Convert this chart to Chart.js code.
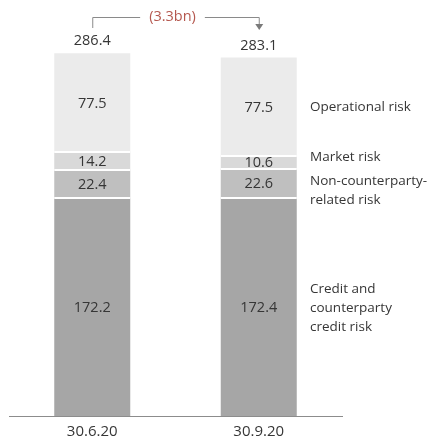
<!DOCTYPE html>
<html>
<head>
<meta charset="utf-8">
<script src="https://cdn.jsdelivr.net/npm/chart.js@4.4.1/dist/chart.umd.min.js"></script>
<style>
  html, body { margin: 0; padding: 0; background: #fff; }
  #wrap { width: 433px; height: 445px; }
</style>
</head>
<body>
<div id="wrap"><canvas id="rwa-chart"></canvas></div>
<script>
// RWA by risk type, two quarter ends (CHF bn)
const periods = ['30.6.20', '30.9.20'];
const creditRisk = [172.2, 172.4];
const nonCounterparty = [22.4, 22.6];
const marketRisk = [14.2, 10.6];
const operationalRisk = [77.5, 77.5];
const totals = [286.4, 283.1];

const segmentNames = [
    ['Credit and', 'counterparty', 'credit risk'],
    ['Non-counterparty-', 'related risk'],
    ['Market risk'],
    ['Operational risk']
];
const segmentColors = ['#a6a6a6', '#bfbfbf', '#d9d9d9', '#ebebeb'];

const FONT = '"Open Sans", "Noto Sans", sans-serif';
const TEXT = '#363636';

const labelPlugin = {
    id: 'segmentLabels',
    afterDatasetsDraw(chart) {
        const ctx = chart.ctx;
        ctx.save();

        // white gaps between stacked segments
        ctx.fillStyle = '#ffffff';
        chart.data.datasets.forEach((ds, di) => {
            if (di === chart.data.datasets.length - 1) return;
            chart.getDatasetMeta(di).data.forEach((bar) => {
                ctx.fillRect(bar.x - bar.width / 2, Math.round(bar.y) - 1, bar.width, 2);
            });
        });

        ctx.font = '14.5px ' + FONT;
        ctx.fillStyle = TEXT;
        ctx.textAlign = 'center';
        ctx.textBaseline = 'middle';

        // values inside each segment
        chart.data.datasets.forEach((ds, di) => {
            const meta = chart.getDatasetMeta(di);
            meta.data.forEach((bar, i) => {
                const mid = (bar.y + bar.base) / 2;
                ctx.fillText(ds.data[i].toFixed(1), bar.x, mid + 1);
            });
        });

        // totals above each bar
        const topMeta = chart.getDatasetMeta(chart.data.datasets.length - 1);
        topMeta.data.forEach((bar, i) => {
            ctx.fillText(totals[i].toFixed(1), bar.x, bar.y - 12);
        });

        // segment names next to the last bar
        ctx.font = '13.5px ' + FONT;
        ctx.textAlign = 'left';
        const lastIdx = periods.length - 1;
        const nameOffsets = [1, 7, -5, 1];
        chart.data.datasets.forEach((ds, di) => {
            const bar = chart.getDatasetMeta(di).data[lastIdx];
            const lines = segmentNames[di];
            const lh = 19;
            const mid = (bar.y + bar.base) / 2 + nameOffsets[di];
            lines.forEach((line, li) => {
                ctx.fillText(line, 310, mid + (li - (lines.length - 1) / 2) * lh);
            });
        });

        // change bracket between the two totals
        const b0 = topMeta.data[0];
        const b1 = topMeta.data[lastIdx];
        const lineY = 17;
        const change = '(' + (totals[0] - totals[lastIdx]).toFixed(1) + 'bn)';
        ctx.font = '14.5px ' + FONT;
        const tw = ctx.measureText(change).width;
        const cx = (b0.x + b1.x) / 2 - 3;
        ctx.strokeStyle = '#8a8a8a';
        ctx.lineWidth = 1;
        ctx.beginPath();
        ctx.moveTo(b0.x + 0.5, 28);
        ctx.lineTo(b0.x + 0.5, lineY + 0.5);
        ctx.lineTo(cx - tw / 2 - 9, lineY + 0.5);
        ctx.moveTo(cx + tw / 2 + 9, lineY + 0.5);
        ctx.lineTo(b1.x + 0.5, lineY + 0.5);
        ctx.lineTo(b1.x + 0.5, 25);
        ctx.stroke();
        ctx.fillStyle = '#7a7a7a';
        ctx.beginPath();
        ctx.moveTo(b1.x - 3.5, 24);
        ctx.lineTo(b1.x + 4.5, 24);
        ctx.lineTo(b1.x + 0.5, 30);
        ctx.closePath();
        ctx.fill();
        ctx.fillStyle = '#b5584f';
        ctx.textAlign = 'center';
        ctx.fillText(change, cx, lineY);
        ctx.restore();
    }
};

const seriesValues = [creditRisk, nonCounterparty, marketRisk, operationalRisk];

new Chart(document.getElementById('rwa-chart'), {
    type: 'bar',
    data: {
        labels: periods,
        datasets: seriesValues.map((values, i) => ({
            label: segmentNames[i].join(' '),
            data: values,
            backgroundColor: segmentColors[i],
            borderWidth: 0,
            inflateAmount: 0,
            barThickness: 76
        }))
    },
    options: {
        responsive: true,
        maintainAspectRatio: false,
        animation: false,
        layout: { padding: { top: 36, right: 91, left: 9, bottom: -3 } },
        plugins: {
            legend: { display: false },
            tooltip: { enabled: false }
        },
        scales: {
            x: {
                stacked: true,
                grid: { display: false, drawTicks: false },
                border: { display: true, color: '#8c8c8c', width: 1 },
                ticks: { color: TEXT, font: { family: FONT, size: 15 }, padding: 7 }
            },
            y: {
                stacked: true,
                display: false,
                min: 0,
                max: 300
            }
        }
    },
    plugins: [labelPlugin]
});
</script>
</body>
</html>
